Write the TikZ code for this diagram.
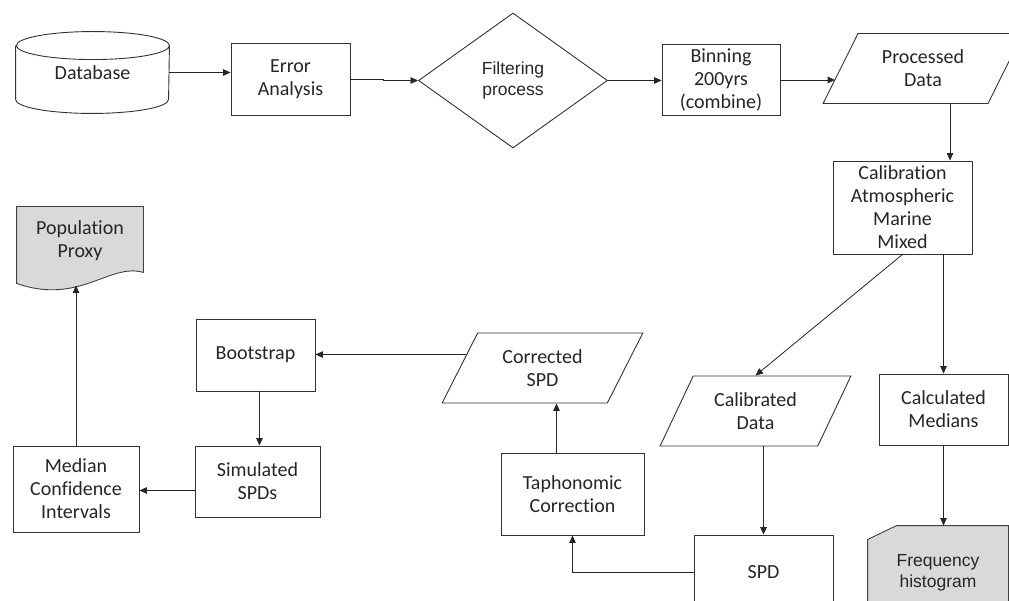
\documentclass[tikz,border=0pt]{standalone}
\usepackage{fontspec}
\setmainfont{Carlito}[Ligatures=NoCommon]
\newfontfamily\arialfont{Liberation Sans}
\usetikzlibrary{arrows.meta, shapes.geometric, calc, backgrounds}
\tikzset{
  base/.style={
    draw=black!80, line width=0.9pt,
    align=center, inner sep=1pt,
    font=\fontsize{20}{23}\selectfont, text=black!85,
  },
  procbox/.style ={base, rectangle},
  iobox/.style   ={base, trapezium, trapezium left angle=60,
                   trapezium right angle=120, trapezium stretches=true,
                   minimum height=70pt},
  decbox/.style  ={base, diamond, inner sep=0pt,
                   font=\arialfont\fontsize{17.5}{21}\selectfont},
  textonly/.style={base, draw=none},
  shapefill/.style={fill=black!15, draw=black!75, line width=0.9pt},
  dbline/.style  ={draw=black!80, line width=0.9pt},
  arr/.style     ={-{Triangle[length=7.5pt,width=6.5pt]}, line width=0.8pt, black!85},
}

\begin{document}
\begin{tikzpicture}[x=1pt, y=-1pt]
\useasboundingbox (0,0) rectangle (1009,601);

%% ════════════════════════════════════════════════════════════
%%  TOP ROW
%% ════════════════════════════════════════════════════════════
\node[textonly, minimum width=153pt, minimum height=81pt] (db)
  at (92.5,72.5) {Database};

\node[procbox, minimum width=119pt, minimum height=72pt] (err)
  at (290.5,79) {Error\\Analysis};

\node[decbox, minimum width=189pt, minimum height=135pt] (filt)
  at (513,80.5) {Filtering\\process};

\node[procbox, minimum width=118pt, minimum height=71pt, inner sep=0pt] (bin)
  at (721,80) {Binning\\200yrs\\(combine)};

\node[iobox, minimum width=200pt] (proc)
  at (923,68.5) {Processed\\Data};

%% ════════════════════════════════════════════════════════════
%%  RIGHT COLUMN
%% ════════════════════════════════════════════════════════════
\node[procbox, minimum width=139pt, minimum height=93pt] (cal)
  at (902.5,207.5) {Calibration\\Atmospheric\\Marine\\Mixed};

\node[iobox, minimum width=191pt] (cdat)
  at (755.5,411) {Calibrated\\Data};

\node[procbox, minimum width=129pt, minimum height=71pt] (med)
  at (943.5,409.5) {Calculated\\Medians};

\node[textonly, minimum width=140pt, minimum height=94pt,
      font=\arialfont\fontsize{17.5}{21}\selectfont] (freq)
  at (938,573) {Frequency\\histogram};

\node[procbox, minimum width=139pt, minimum height=74pt] (spd)
  at (763.5,572) {SPD};

%% ════════════════════════════════════════════════════════════
%%  LOWER LEFT
%% ════════════════════════════════════════════════════════════
\node[procbox, minimum width=143pt, minimum height=82pt] (taph)
  at (572.5,494) {Taphonomic\\Correction};

\node[iobox, minimum width=201pt] (corr)
  at (542.5,368) {Corrected\\SPD};

\node[procbox, minimum width=119pt, minimum height=72pt] (boot)
  at (255.5,355) {Bootstrap};

\node[procbox, minimum width=125pt, minimum height=71pt] (sim)
  at (257.5,481.5) {Simulated\\SPDs};

\node[procbox, minimum width=126pt, minimum height=86pt] (mci)
  at (76,489) {Median\\Confidence\\Intervals};

\node[textonly, minimum width=126pt, minimum height=68pt] (pop)
  at (80,241) {Population\\Proxy};

% outlines drawn behind the text
\draw[dbline]
  ([yshift=-14pt]db.north west) -- ([yshift=14pt]db.south west)
  arc[start angle=180, end angle=360, x radius=76.5pt, y radius=14pt]
  -- ([yshift=-14pt]db.north east)
  arc[start angle=0, end angle=360, x radius=76.5pt, y radius=14pt];

\begin{scope}[on background layer]
\fill[white] (0,0) rectangle (1009,601);
\draw[shapefill]
  (pop.north west) -- (pop.north east) -- ([yshift=3pt]pop.south east)
  .. controls ($(pop.south west)+(93,-13)$) and ($(pop.south west)+(63,30)$)
  .. ([yshift=-8pt]pop.south west) -- cycle;
\draw[shapefill]
  ([yshift=-14pt]freq.north west) -- ([xshift=29pt]freq.north west)
  -- (freq.north east) -- (freq.south east) -- (freq.south west) -- cycle;
\end{scope}

% arrows along the top
\draw[arr] (db.east) -- (db.east -| err.west);
\draw[arr] (err.east) -- ++(33,0) |- (filt.west);
\draw[arr] (filt.east) -- (filt.east -| bin.west);
\coordinate (procin) at ($(proc.bottom left corner)!0.36!(proc.top left corner)$);
\draw[arr] (bin.east) -- (bin.east -| procin);

% arrows down the right
\draw[arr] ([xshift=27pt]proc.south) -- ([xshift=27pt]proc.south |- cal.north);
\draw[arr] (cal.south) -- (cdat.north);
\draw[arr] (cal.south -| med.north) -- (med.north);
\draw[arr] (med.south) -- (med.south |- freq.north);
\draw[arr] (cdat.south -| spd.north) -- (spd.north);

% back to the left
\draw[arr] (spd.west) -| (taph.south);
\draw[arr] ([xshift=-16pt]taph.north) -- ([xshift=-16pt]taph.north |- corr.south);
\coordinate (corrout) at ($(corr.bottom left corner)!0.69!(corr.top left corner)$);
\draw[arr] (corrout) -- (corrout -| boot.east);
\draw[arr] ([xshift=4pt]boot.south) -- ([xshift=4pt]boot.south |- sim.north);
\draw[arr] ([yshift=-9pt]sim.west) -- ([yshift=-9pt]sim.west -| mci.east);
\coordinate (popin) at ($(pop.south)+(-3,10)$);
\draw[arr] (mci.north) -- (mci.north |- popin);

\end{tikzpicture}
\end{document}
